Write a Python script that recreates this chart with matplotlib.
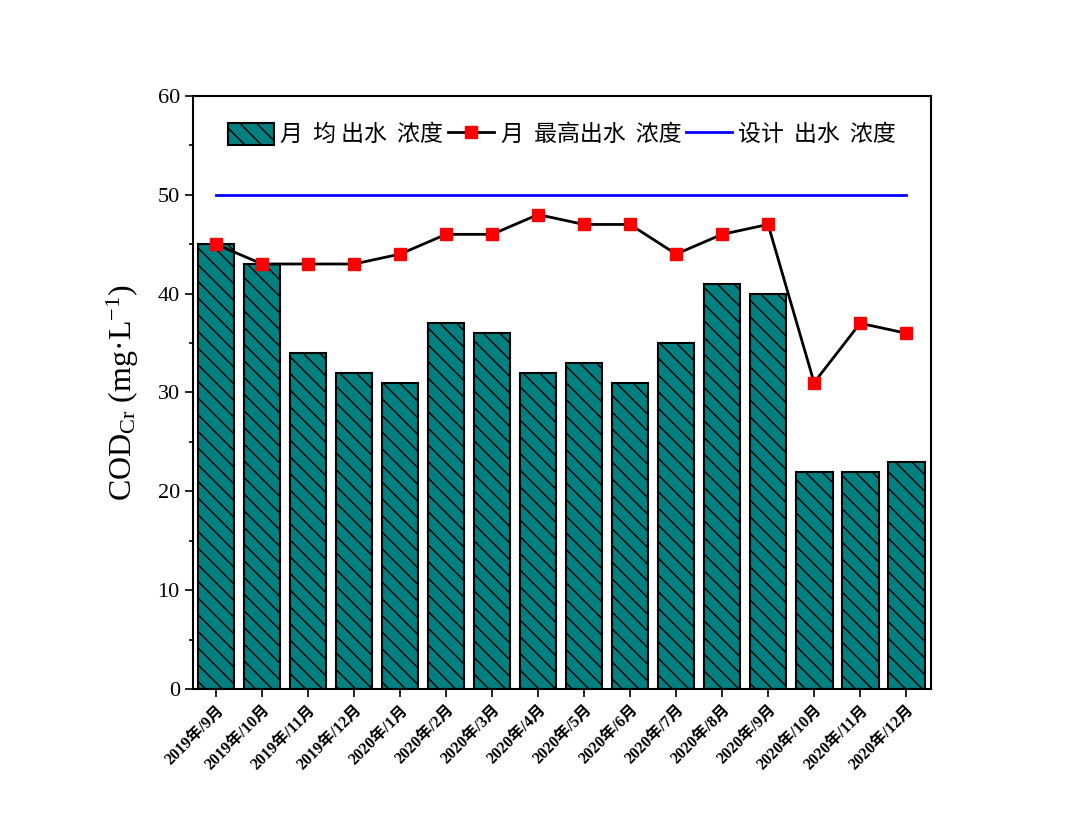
import matplotlib
matplotlib.use("Agg")
import matplotlib.pyplot as plt
import numpy as np

months = ["2019年/9月", "2019年/10月", "2019年/11月", "2019年/12月", "2020年/1月", "2020年/2月",
          "2020年/3月", "2020年/4月", "2020年/5月", "2020年/6月", "2020年/7月", "2020年/8月",
          "2020年/9月", "2020年/10月", "2020年/11月", "2020年/12月"]
mean_cod = [45, 43, 34, 32, 31, 37, 36, 32, 33, 31, 35, 41, 40, 22, 22, 23]
max_cod = [45, 43, 43, 43, 44, 46, 46, 48, 47, 47, 44, 46, 47, 31, 37, 36]
design_cod = [50] * len(months)

plt.rcParams['font.family'] = ['Liberation Serif', 'Noto Sans CJK SC']
plt.rcParams['mathtext.fontset'] = 'custom'
plt.rcParams['mathtext.rm'] = 'Liberation Serif'
plt.rcParams['mathtext.it'] = 'Liberation Serif:italic'
plt.rcParams['hatch.linewidth'] = 1.0

fig = plt.figure(figsize=(10.8, 8.26), dpi=100)
ax = fig.add_axes([0.1787, 0.1659, 0.862 - 0.1787, 0.8838 - 0.1659])

x = np.arange(len(months))
b = ax.bar(x, mean_cod, width=0.8, color='#008080', edgecolor='black', linewidth=1.5,
           hatch='\\\\', label='月  均 出水  浓度')
l1, = ax.plot(x, max_cod, color='black', linewidth=2, marker='s', markersize=8,
              markerfacecolor='red', markeredgecolor='red', label='月  最高出水  浓度')
l2, = ax.plot(x, design_cod, color='#0000ff', linewidth=2, label='设计  出水  浓度')

ax.set_xlim(-0.5, 15.54)
ax.set_ylim(0, 60)
ax.set_yticks(range(0, 61, 10))
ax.set_yticks(range(5, 60, 10), minor=True)
ax.set_xticks(x)
ax.set_xticklabels(months, rotation=45, ha='right', rotation_mode='anchor',
                   fontsize=11.5, fontweight='bold',
                   family=['Liberation Serif', 'Noto Sans CJK SC'])
ax.tick_params(axis='both', direction='out', width=1.2)
ax.tick_params(axis='y', which='major', length=6, labelsize=16)
ax.tick_params(axis='y', which='minor', length=3, width=1.2)
ax.tick_params(axis='x', length=6)
for s in ax.spines.values():
    s.set_linewidth(1.5)

ax.set_ylabel('COD$_{\\mathregular{Cr}}$ (mg·L$^{\\mathregular{-1}}$)', fontsize=23, labelpad=12)

ax.legend([b, l1, l2], ['月  均 出水  浓度', '月  最高出水  浓度', '设计  出水  浓度'],
          loc='upper center', ncol=3, frameon=False,
          bbox_to_anchor=(0.5, 0.99), handlelength=2.0, handleheight=1.1,
          columnspacing=0.2, handletextpad=0.3,
          prop={'family': ['Noto Sans CJK SC'], 'size': 16.5})

fig.savefig('out.png', dpi=100)
